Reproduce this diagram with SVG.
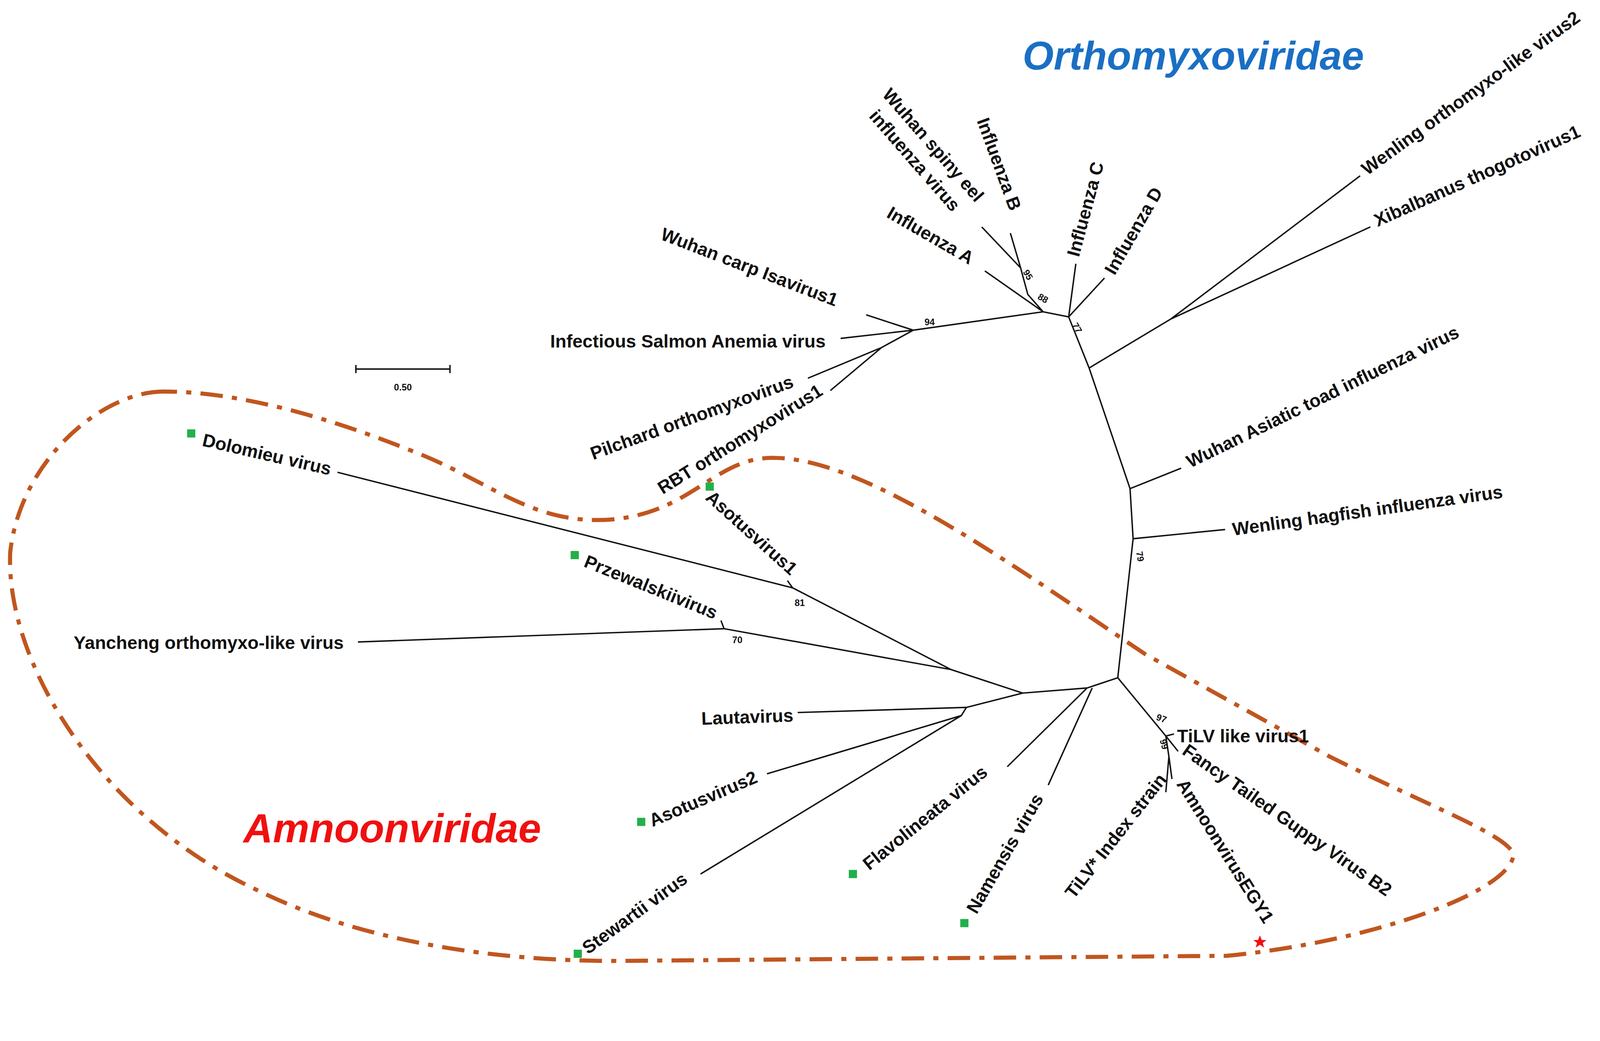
<svg xmlns="http://www.w3.org/2000/svg" width="4322" height="2666" viewBox="0 0 4322 2666">
<style>
.l{font-family:"Liberation Sans",Arial,sans-serif;font-weight:bold;font-size:17.8px;fill:#111}
.b{font-family:"Liberation Sans",Arial,sans-serif;font-weight:bold;font-size:9px;fill:#111}
.e{stroke:#111;stroke-width:1.4;fill:none}
.g{fill:#22b04b}
</style>
<rect width="4322" height="2666" fill="#fff"/>
<g transform="scale(2.618)">
<g id="connectors" class="e">
<path d="M893,323 L1020,305 M893,323 L847,308 M893,323 L822,331 M893,323 L862,340 L790,370 M862,340 L812,382"/>
<path d="M1020,305 L963,265 M1020,305 L1005,288 L998,262 L988,228 M998,262 L960,222 M1020,305 L1045,310 L1052,258 M1045,310 L1080,272 M1045,310 L1065,360"/>
<path d="M1065,360 L1145,312 L1330,172 M1145,312 L1340,222 M1065,360 L1105,478 L1155,458 M1105,478 L1108,527 L1198,518 M1108,527 L1093,663"/>
<path d="M1093,663 L1063,673 L1000,678 M1063,673 L985,750 M1068,673 L1025,768 M1093,663 L1140,720 L1148,718 M1140,720 L1152,735 M1140,720 L1143,740 L1140,775 M1143,740 L1146,762"/>
<path d="M1000,678 L930,655 L775,575 L330,462 M775,575 L770,568 M930,655 L708,615 L350,628 M708,615 L705,607 M1000,678 L945,692 L780,697 M945,692 L940,700 L750,757 M940,700 L685,855"/>
<path d="M348,361 L440,361 M348,357 L348,365 M440,357 L440,365"/>
</g>
<path d="M160,383 C100,383 20,450 10,540 C5,650 100,800 250,870 C350,920 480,940 600,940 L1200,935 C1350,920 1480,870 1480,835 C1470,815 1400,790 1300,740 L1120,640 C1000,560 850,450 760,448 C700,445 680,500 600,508 C520,515 480,470 400,440 C300,400 220,383 160,383 Z" fill="none" stroke="#c0561f" stroke-width="4" stroke-dasharray="22,9,5,9"/>
<text x="394" y="382" class="b" font-size="8" text-anchor="middle">0.50</text>
<text x="1000" y="68" font-family="Liberation Sans,Arial,sans-serif" font-weight="bold" font-style="italic" font-size="39" fill="#1a6fc4">Orthomyxoviridae</text>
<text x="238" y="824" font-family="Liberation Sans,Arial,sans-serif" font-weight="bold" font-style="italic" font-size="40" fill="#f01010">Amnoonviridae</text>
<g id="labels">
<text class="l" transform="translate(645,234) rotate(21)">Wuhan carp Isavirus1</text>
<text class="l" x="538" y="340">Infectious Salmon Anemia virus</text>
<text class="l" transform="translate(580,450) rotate(-20)">Pilchard orthomyxovirus</text>
<text class="l" transform="translate(648,484) rotate(-32)">RBT orthomyxovirus1</text>
<text class="l" transform="translate(866,212) rotate(30)">Influenza A</text>
<text class="l" transform="translate(862,93) rotate(49)">Wuhan spiny eel</text>
<text class="l" transform="translate(849,114) rotate(49)">influenza virus</text>
<text class="l" transform="translate(955,118) rotate(70)">Influenza B</text>
<text class="l" transform="translate(1055,252) rotate(-75)">Influenza C</text>
<text class="l" transform="translate(1090,270) rotate(-60)">Influenza D</text>
<text class="l" transform="translate(1337,172) rotate(-36)">Wenling orthomyxo-like virus2</text>
<text class="l" transform="translate(1347,222) rotate(-24)">Xibalbanus thogotovirus1</text>
<text class="l" transform="translate(1164,458) rotate(-26)">Wuhan Asiatic toad influenza virus</text>
<text class="l" transform="translate(1206,524) rotate(-8)">Wenling hagfish influenza virus</text>
<text class="l" transform="translate(197,436) rotate(13)">Dolomieu virus</text>
<text class="l" transform="translate(689,488) rotate(42)">Asotusvirus1</text>
<text class="l" transform="translate(570,554) rotate(22)">Przewalskiivirus</text>
<text class="l" x="72" y="635">Yancheng orthomyxo-like virus</text>
<text class="l" transform="translate(686,709) rotate(-2)">Lautavirus</text>
<text class="l" transform="translate(638,809) rotate(-23)">Asotusvirus2</text>
<text class="l" transform="translate(850,852) rotate(-39)">Flavolineata virus</text>
<text class="l" transform="translate(575,934) rotate(-36)">Stewartii virus</text>
<text class="l" transform="translate(955,895) rotate(-60)">Namensis virus</text>
<text class="l" transform="translate(1050,880) rotate(-52)">TiLV* Index strain</text>
<text class="l" transform="translate(1150,767) rotate(58)">AmnoonvirusEGY1</text>
<text class="l" transform="translate(1155,737) rotate(35)">Fancy Tailed Guppy Virus B2</text>
<text class="l" x="1151" y="726">TiLV like virus1</text>
</g>
<g id="bootstrap">
<text class="b" x="904" y="318">94</text>
<text class="b" transform="translate(1000,266) rotate(60)">95</text>
<text class="b" transform="translate(1014,292) rotate(30)">88</text>
<text class="b" transform="translate(1048,318) rotate(60)">77</text>
<text class="b" transform="translate(1111,540) rotate(80)">79</text>
<text class="b" x="777" y="593">81</text>
<text class="b" x="716" y="629">70</text>
<text class="b" transform="translate(1130,704) rotate(20)">97</text>
<text class="b" transform="translate(1134,724) rotate(75)">99</text>
</g>
<g id="markers">
<rect class="g" x="183" y="420" width="8" height="8"/>
<rect class="g" x="690" y="472" width="8" height="8"/>
<rect class="g" x="558" y="539" width="8" height="8"/>
<rect class="g" x="623" y="800" width="8" height="8"/>
<rect class="g" x="830" y="851" width="8" height="8"/>
<rect class="g" x="939" y="899" width="8" height="8"/>
<rect class="g" x="561" y="929" width="8" height="8"/>
<polygon fill="#f01010" points="1232,915 1233.8,919.5 1238.5,919.6 1234.8,922.4 1236.1,927 1232,924.2 1227.9,927 1229.2,922.4 1225.5,919.6 1230.2,919.5"/>
</g>
</g>
</svg>
